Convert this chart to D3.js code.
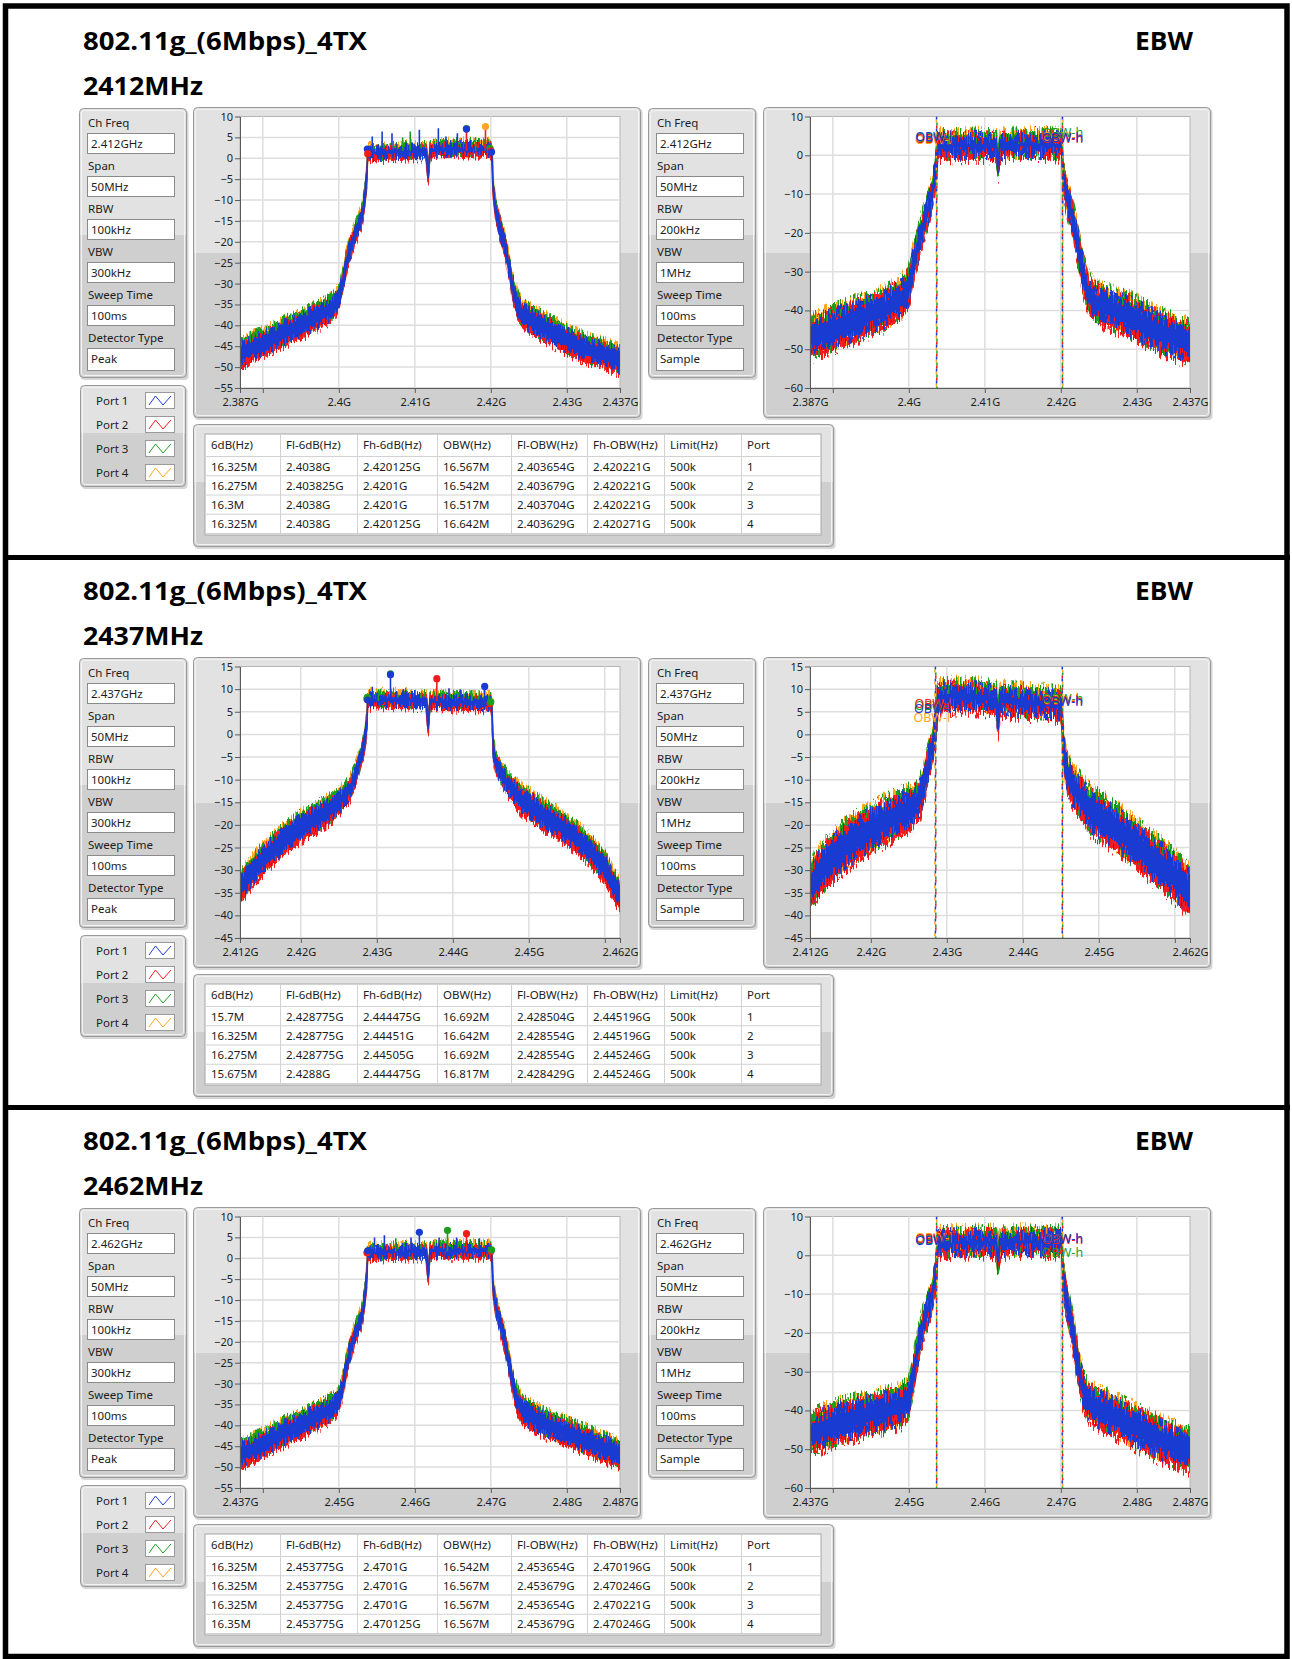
<!DOCTYPE html>
<html>
<head>
<meta charset="utf-8">
<title>802.11g EBW</title>
<script src="https://cdn.jsdelivr.net/npm/d3@7"></script>
<style>
  body { margin: 0; background: #fff; }
  svg { display: block; }
</style>
</head>
<body>
<script>
// ---------- data ----------
var channelNames  = ["2412MHz", "2437MHz", "2462MHz"];
var channelCenter = [2412, 2437, 2462];
var chFreqValues  = ["2.412GHz", "2.437GHz", "2.462GHz"];

var settingLabels  = ["Ch Freq", "Span", "RBW", "VBW", "Sweep Time", "Detector Type"];
var peakSettings   = ["50MHz", "100kHz", "300kHz", "100ms", "Peak"];
var sampleSettings = ["50MHz", "200kHz", "1MHz", "100ms", "Sample"];

var portNames  = ["Port 1", "Port 2", "Port 3", "Port 4"];
var portColors = ["#1a3bd1", "#f21b1b", "#1d9e1d", "#ffa41f"];

var tableHeaders = ["6dB(Hz)", "Fl-6dB(Hz)", "Fh-6dB(Hz)", "OBW(Hz)", "Fl-OBW(Hz)", "Fh-OBW(Hz)", "Limit(Hz)", "Port"];
var table2412 = [
  ["16.325M", "2.4038G", "2.420125G", "16.567M", "2.403654G", "2.420221G", "500k", "1"],
  ["16.275M", "2.403825G", "2.4201G", "16.542M", "2.403679G", "2.420221G", "500k", "2"],
  ["16.3M", "2.4038G", "2.4201G", "16.517M", "2.403704G", "2.420221G", "500k", "3"],
  ["16.325M", "2.4038G", "2.420125G", "16.642M", "2.403629G", "2.420271G", "500k", "4"]
];
var table2437 = [
  ["15.7M", "2.428775G", "2.444475G", "16.692M", "2.428504G", "2.445196G", "500k", "1"],
  ["16.325M", "2.428775G", "2.44451G", "16.642M", "2.428554G", "2.445196G", "500k", "2"],
  ["16.275M", "2.428775G", "2.44505G", "16.692M", "2.428554G", "2.445246G", "500k", "3"],
  ["15.675M", "2.4288G", "2.444475G", "16.817M", "2.428429G", "2.445246G", "500k", "4"]
];
var table2462 = [
  ["16.325M", "2.453775G", "2.4701G", "16.542M", "2.453654G", "2.470196G", "500k", "1"],
  ["16.325M", "2.453775G", "2.4701G", "16.567M", "2.453679G", "2.470246G", "500k", "2"],
  ["16.325M", "2.453775G", "2.4701G", "16.567M", "2.453654G", "2.470221G", "500k", "3"],
  ["16.35M", "2.453775G", "2.470125G", "16.567M", "2.453679G", "2.470246G", "500k", "4"]
];

// x ticks (MHz) and their labels
var xTicks2412  = [2387, 2390, 2400, 2410, 2420, 2430, 2437];
var xLabels2412 = ["2.387G", "", "2.4G", "2.41G", "2.42G", "2.43G", "2.437G"];
var xTicks2437  = [2412, 2420, 2430, 2440, 2450, 2460, 2462];
var xLabels2437 = ["2.412G", "2.42G", "2.43G", "2.44G", "2.45G", "", "2.462G"];
var xTicks2462  = [2437, 2440, 2450, 2460, 2470, 2480, 2487];
var xLabels2462 = ["2.437G", "", "2.45G", "2.46G", "2.47G", "2.48G", "2.487G"];

// y ticks (dBm)
var yTicksPeak   = [10, 5, 0, -5, -10, -15, -20, -25, -30, -35, -40, -45, -50, -55];
var yTicksSample = [10, 0, -10, -20, -30, -40, -50, -60];
var yTicks2437   = [15, 10, 5, 0, -5, -10, -15, -20, -25, -30, -35, -40, -45];

// frequency offsets from channel centre (MHz) where the trace level was read
var offsets = [-25, -23, -21, -19, -17, -15, -13,
  -12, -11.5, -11, -10.5, -10, -9.5, -9, -8.6, -8.3, -8.2,
  -7, -5, -3, -1.5, -0.5, -0.25, 0, 0.6,
  2, 4, 6, 8, 8.15,
  8.3, 8.6, 9, 9.5, 10, 10.5, 11, 11.5, 12,
  13, 15, 17, 19, 21, 23, 25];

// centre of the trace band (dBm)
var peak2412 = [-47, -45, -43.5, -41.5, -40, -38, -36,
  -33.5, -30, -25, -21.5, -19, -16.5, -14, -10, -4, 1.2,
  1.2, 1.4, 1.6, 1.7, 1.6, -4.5, 1.8, 2,
  2.2, 2.3, 2.3, 2.2, 1,
  -7, -12, -15, -18.5, -22, -27, -32, -35, -37,
  -38.5, -40.5, -42.5, -44.5, -46, -47, -48.5];
var sample2412 = [-47, -45.5, -44, -42.5, -41, -39.5, -37,
  -34, -29, -25, -21, -17.5, -14, -10.5, -6, -1, 2.5,
  2.4, 2.4, 2.6, 2.4, 2.2, -2.5, 2.2, 2.5,
  2.6, 2.7, 2.7, 2.5, 1.5,
  -5, -9, -12, -16, -20.5, -26, -31, -35, -37,
  -38.5, -40, -41.5, -43.5, -45.5, -47, -48.5];
var peak2437 = [-34, -29.5, -26, -23, -20.5, -18.5, -16.5,
  -15, -14, -13, -12, -10, -7.5, -4.5, -1.5, 2.5, 7.5,
  7.6, 7.7, 7.6, 7.5, 7.4, 1.5, 7.2, 7.3,
  7.2, 7.1, 7, 7, 6,
  -3, -6, -7.5, -9, -10.5, -11.5, -12.5, -13.5, -14.5,
  -15.5, -18, -20, -22.5, -25.5, -29.5, -36];
var sample2437 = [-33.5, -29, -25.5, -23, -21, -19, -17.5,
  -16.5, -16, -15, -14, -11, -7, -3.5, 0, 4, 8,
  8.3, 8.5, 8.2, 8, 7.5, 3, 7.5, 7.5,
  7.3, 7, 6.8, 6.5, 5,
  -2, -7, -9.5, -11.5, -12.5, -13.5, -14.5, -16, -17,
  -18, -20.5, -23, -26, -28.5, -31.5, -35];
var peak2462 = [-47, -45.5, -43.5, -41.5, -40, -38, -36,
  -34, -31, -26, -22, -19, -16.5, -14, -10, -4, 1.2,
  1.3, 1.5, 1.6, 1.6, 1.5, -4.5, 1.6, 1.7,
  1.8, 1.8, 1.8, 1.8, 0.5,
  -7, -11, -14, -17, -21, -26, -31, -34, -36,
  -37.5, -39.5, -41, -42.5, -44, -45.5, -47];
var sample2462 = [-46, -44.5, -43, -42, -41, -40, -39,
  -37, -32, -26, -21, -17, -14, -11, -7, -2, 3,
  3.2, 3.3, 3.4, 3.4, 3.2, -1.5, 3, 3.3,
  3.4, 3.5, 3.4, 3.3, 2,
  -5, -10, -14, -19, -25, -31, -35, -37.5, -38.5,
  -39.5, -41.5, -43.5, -45.5, -47.5, -49, -50.5];

// thickness of the noise band (dB)
var spreadPeak = [5.5, 5.5, 5.5, 5.5, 5.5, 5.5, 5,
  4.5, 4, 4, 4, 4, 3.5, 3.5, 3.5, 3, 2.5,
  2.5, 2.5, 2.5, 2.5, 2.5, 2.5, 2.5, 2.5,
  2.5, 2.5, 2.5, 2.5, 2.5,
  3, 3.5, 4, 4, 4, 4, 4.5, 5, 5,
  5.5, 5.5, 5.5, 5.5, 5.5, 5.5, 5.5];
var spreadSample = [9, 9, 9, 9, 8.5, 8.5, 8.5,
  8, 7.5, 7, 7, 6, 6, 5.5, 5.5, 5.5, 5,
  5, 5, 5, 5, 5, 5, 5, 5,
  5, 5, 5, 5, 5,
  6, 6, 7, 7, 7, 7.5, 8, 8, 8.5,
  8.5, 8.5, 9, 9, 9, 9, 9];

// level of the flat top, where spikes start
var inBandLevel = [1.8, 7.4, 1.6];

// spikes [offset MHz, top dBm, port]
var spikes2412 = [[-7.6, 5.2, 0], [-6.3, 6.4, 0], [-5, 6, 0], [-3.6, 5, 2], [-2.6, 6.4, 2], [-1.4, 6.8, 0],
  [1.1, 7.2, 0], [2.1, 5.2, 0], [3.6, 6, 0], [4.8, 7, 1], [6, 5, 2], [7.3, 7.6, 1]];
var spikes2437 = [[-7.6, 10.5, 0], [-6.8, 10, 2], [-5.2, 13.2, 0], [-3.5, 10, 0], [-2, 9.8, 0],
  [0.9, 12.3, 1], [2.5, 10.2, 0], [4, 10, 0], [5.5, 9.8, 2], [7.2, 10.6, 0]];
var spikes2462 = [[-7.3, 5, 0], [-6, 5.5, 0], [-4.5, 4.8, 2], [-2.5, 5, 0], [-1.4, 6.2, 0],
  [1.2, 5, 0], [2.3, 6.7, 2], [3.5, 5, 0], [4.8, 5.9, 1], [6.5, 4.8, 0]];

// peak markers [offset MHz, level dBm, port]
var markers2412 = [[-8.25, 2.2, 0], [-8.2, 1.1, 1], [4.8, 7.1, 2], [4.8, 7, 0], [7.3, 7.6, 3],
  [7.9, 2.4, 2], [8.0, 1.8, 1], [8.1, 1.5, 0]];
var markers2437 = [[-8.3, 7.8, 1], [-8.25, 8.2, 2], [-8.2, 7.6, 0], [-5.2, 13.4, 2], [-5.2, 13.2, 0],
  [0.9, 12.3, 1], [7.2, 10.6, 0], [7.9, 6.8, 1], [8.0, 7.2, 2]];
var markers2462 = [[-8.3, 1.3, 1], [-8.2, 1.8, 0], [-1.4, 6.2, 0], [2.3, 6.7, 2], [4.8, 5.9, 1],
  [8.0, 1.6, 1], [8.1, 2.0, 2]];

// OBW cursor label levels per port (dBm)
var obwL2412 = [4.8, 4.4, 4.6, 4.0], obwH2412 = [4.6, 4.3, 5.8, 4.8];
var obwL2437 = [5.8, 6.8, 6.3, 3.7], obwH2437 = [7.2, 7.4, 7.9, 7.6];
var obwL2462 = [3.9, 4.3, 4.1, 4.5], obwH2462 = [4.2, 4.0, 0.7, 4.4];

var sections = [
  { table: table2412, xTicks: xTicks2412, xLabels: xLabels2412, yPeak: yTicksPeak, ySample: yTicksSample,
    peak: peak2412, sample: sample2412, spikes: spikes2412, markers: markers2412, obwL: obwL2412, obwH: obwH2412 },
  { table: table2437, xTicks: xTicks2437, xLabels: xLabels2437, yPeak: yTicks2437, ySample: yTicks2437,
    peak: peak2437, sample: sample2437, spikes: spikes2437, markers: markers2437, obwL: obwL2437, obwH: obwH2437 },
  { table: table2462, xTicks: xTicks2462, xLabels: xLabels2462, yPeak: yTicksPeak, ySample: yTicksSample,
    peak: peak2462, sample: sample2462, spikes: spikes2462, markers: markers2462, obwL: obwL2462, obwH: obwH2462 }
];

// ---------- drawing ----------
var SEC = 550;
var FONT = "'Noto Sans', 'DejaVu Sans', sans-serif";
var portShift = [0, -0.5, 0.4, 0.6];   // dB, how each port sits against port 1
var bandScale = [0.8, 1, 1, 1];

var svg = d3.select("body").append("svg").attr("width", 1292).attr("height", 1659);
var defs = svg.append("defs");

var grad = defs.append("linearGradient").attr("id", "pgrad")
  .attr("x1", 0).attr("y1", 0).attr("x2", 0).attr("y2", 1);
[[0, "#e2e2e2"], [0.47, "#e2e2e2"], [0.47, "#cfcfcf"], [1, "#cfcfcf"]].forEach(function (s) {
  grad.append("stop").attr("offset", s[0]).attr("stop-color", s[1]);
});

function jitterFilter(id, seed, amount) {
  var f = defs.append("filter").attr("id", id).attr("filterUnits", "userSpaceOnUse")
    .attr("x", 0).attr("y", 0).attr("width", 1292).attr("height", 560)
    .attr("color-interpolation-filters", "sRGB");
  f.append("feTurbulence").attr("type", "fractalNoise").attr("baseFrequency", "0.6 0.08")
    .attr("numOctaves", 2).attr("seed", seed).attr("result", "n");
  f.append("feColorMatrix").attr("in", "n").attr("type", "matrix")
    .attr("values", "0 0 0 0 0.5  0 3 0 0 -1  0 0 0 0 0  0 0 0 0 1").attr("result", "m");
  f.append("feDisplacementMap").attr("in", "SourceGraphic").attr("in2", "m").attr("scale", amount)
    .attr("xChannelSelector", "R").attr("yChannelSelector", "G");
}
for (var p = 0; p < 4; p++) {
  jitterFilter("jp" + p, 11 + p * 5, 8);
  jitterFilter("js" + p, 31 + p * 5, 14);
}

function panel(g, x, y, w, h) {
  g.append("rect").attr("x", x + 1.5).attr("y", y + 2).attr("width", w).attr("height", h)
    .attr("rx", 4).attr("fill", "#b5b5b5").attr("opacity", 0.55);
  g.append("rect").attr("x", x + 0.5).attr("y", y + 0.5).attr("width", w - 1).attr("height", h - 1)
    .attr("rx", 4).attr("fill", "url(#pgrad)").attr("stroke", "#9a9a9a");
  g.append("rect").attr("x", x + 2.5).attr("y", y + 2.5).attr("width", w - 5).attr("height", h - 5)
    .attr("rx", 3).attr("fill", "none").attr("stroke", "#f3f3f3");
}

function label(g, x, y, txt, size) {
  return g.append("text").attr("x", x).attr("y", y).attr("font-family", FONT)
    .attr("font-size", size || 11.5).attr("fill", "#1c1c1c").text(txt);
}

function drawSettings(g, x, chText, values) {
  panel(g, x, 108, 108, 270);
  var vals = [chText].concat(values);
  settingLabels.forEach(function (l, i) {
    label(g, x + 9, 127 + 43 * i, l);
    g.append("rect").attr("x", x + 8.5).attr("y", 133.5 + 43 * i).attr("width", 87)
      .attr("height", i === 5 ? 22 : 20).attr("fill", "#fff").attr("stroke", "#8a8a8a");
    label(g, x + 12, 148 + 43 * i, vals[i]);
  });
}

function drawLegend(g) {
  panel(g, 80, 385, 106, 102);
  var zig = d3.line();
  portNames.forEach(function (n, i) {
    var by = 405 + 24 * i;
    label(g, 96, by, n, 11.5);
    g.append("rect").attr("x", 145.5).attr("y", by - 12.5).attr("width", 29).attr("height", 16)
      .attr("fill", "#fff").attr("stroke", "#9a9a9a");
    g.append("path").attr("d", zig([[149, by], [155.5, by - 9], [163, by], [171, by - 9]]))
      .attr("fill", "none").attr("stroke", portColors[i]).attr("stroke-width", 1);
  });
}

function drawTable(g, rows) {
  panel(g, 193, 424, 641, 123);
  var colX = [205, 280, 357, 437, 511, 587, 664, 741, 821];
  var rowY = [434, 456, 475.25, 494.5, 513.75, 533];
  g.append("rect").attr("x", 205).attr("y", 434).attr("width", 616).attr("height", 101)
    .attr("fill", "#fff").attr("stroke", "#a6a6a6");
  g.selectAll(null).data(colX.slice(1, -1)).enter().append("line")
    .attr("x1", function (d) { return d + 0.5; }).attr("x2", function (d) { return d + 0.5; })
    .attr("y1", 434).attr("y2", 535).attr("stroke", "#d2d2d2");
  g.selectAll(null).data(rowY.slice(1)).enter().append("line")
    .attr("x1", 205).attr("x2", 821)
    .attr("y1", function (d) { return d + 0.5; }).attr("y2", function (d) { return d + 0.5; })
    .attr("stroke", "#d2d2d2");
  tableHeaders.forEach(function (h, c) { label(g, colX[c] + 6, 448.5, h); });
  rows.forEach(function (r, ri) {
    r.forEach(function (v, c) { label(g, colX[c] + 6, rowY[ri + 1] + 14.5, v); });
  });
}

var chartId = 0;
function drawChart(g, px, o) {
  var id = chartId++;
  panel(g, px, 107, 448, 311);
  var x0 = px + 47, y0 = 116.5, pw = 380, ph = 271.5;
  var x = d3.scaleLinear().domain(d3.extent(o.xTicks)).range([x0, x0 + pw]);
  var y = d3.scaleLinear().domain(d3.extent(o.yTicks)).range([y0 + ph, y0]);

  g.append("rect").attr("x", x0).attr("y", y0).attr("width", pw).attr("height", ph)
    .attr("fill", "#fff").attr("stroke", "#b4b4b4");

  g.selectAll(null).data(o.xTicks.slice(1, -1)).enter().append("line")
    .attr("x1", function (d) { return x(d); }).attr("x2", function (d) { return x(d); })
    .attr("y1", y0).attr("y2", y0 + ph).attr("stroke", "#dedede").attr("stroke-width", 1.5);
  g.selectAll(null).data(o.yTicks.slice(1, -1)).enter().append("line")
    .attr("x1", x0).attr("x2", x0 + pw)
    .attr("y1", function (d) { return y(d); }).attr("y2", function (d) { return y(d); })
    .attr("stroke", "#dedede").attr("stroke-width", 1.5);

  defs.append("clipPath").attr("id", "clip" + id).append("rect")
    .attr("x", x0).attr("y", y0).attr("width", pw).attr("height", ph);
  var tg = g.append("g").attr("clip-path", "url(#clip" + id + ")");

  [3, 2, 1, 0].forEach(function (p) {
    var area = d3.area()
      .x(function (d, i) { return x(o.center + offsets[i]); })
      .y0(function (d, i) { return y(d - o.spread[i] * bandScale[p] / 2 + portShift[p]); })
      .y1(function (d, i) { return y(d + o.spread[i] * bandScale[p] / 2 + portShift[p]); });
    tg.append("g").attr("filter", "url(#" + (o.sample ? "js" : "jp") + p + ")")
      .append("path").datum(o.mid).attr("d", area)
      .attr("fill", portColors[p]).attr("stroke", portColors[p]).attr("stroke-width", 1.3);
  });

  if (o.spikes) {
    tg.selectAll(null).data(o.spikes).enter().append("line")
      .attr("x1", function (d) { return x(o.center + d[0]); })
      .attr("x2", function (d) { return x(o.center + d[0]); })
      .attr("y1", function (d) { return y(d[1]); })
      .attr("y2", y(o.base))
      .attr("stroke", function (d) { return portColors[d[2]]; }).attr("stroke-width", 1.6);
    tg.selectAll(null).data(o.markers).enter().append("circle")
      .attr("cx", function (d) { return x(o.center + d[0]); })
      .attr("cy", function (d) { return y(d[1]); })
      .attr("r", 3.6).attr("fill", function (d) { return portColors[d[2]]; });
  }

  if (o.sample) {
    // OBW cursors from the table (Fl-OBW / Fh-OBW)
    [3, 2, 1, 0].forEach(function (p) {
      [4, 5].forEach(function (c) {
        var fx = x(parseFloat(o.table[p][c]) * 1000);
        tg.append("line").attr("x1", fx).attr("x2", fx).attr("y1", y0).attr("y2", y0 + ph)
          .attr("stroke", portColors[p]).attr("stroke-width", 1.5)
          .attr("stroke-dasharray", "3,9").attr("stroke-dashoffset", p * 3);
      });
    });
    [3, 2, 1, 0].forEach(function (p) {
      var fl = x(parseFloat(o.table[p][4]) * 1000), fh = x(parseFloat(o.table[p][5]) * 1000);
      tg.append("text").attr("x", fl - 3).attr("y", y(o.obwL[p]) + 4.5).attr("text-anchor", "middle")
        .attr("font-family", FONT).attr("font-size", 12.5).attr("fill", portColors[p]).text("OBW-l");
      tg.append("text").attr("x", fh).attr("y", y(o.obwH[p]) + 4.5).attr("text-anchor", "middle")
        .attr("font-family", FONT).attr("font-size", 12.5).attr("fill", portColors[p]).text("OBW-h");
    });
  }

  var ya = g.append("g").attr("transform", "translate(" + x0 + ",0)")
    .call(d3.axisLeft(y).tickValues(o.yTicks).tickSize(5).tickSizeOuter(0).tickPadding(2));
  var xa = g.append("g").attr("transform", "translate(0," + (y0 + ph) + ")")
    .call(d3.axisBottom(x).tickValues(o.xTicks).tickSize(5).tickSizeOuter(0).tickPadding(5)
      .tickFormat(function (d, i) { return o.xLabels[i]; }));
  [ya, xa].forEach(function (a) {
    a.attr("font-family", FONT).attr("font-size", 11);
    a.select(".domain").attr("stroke", "#5a5a5a");
    a.selectAll(".tick line").attr("stroke", "#5a5a5a");
    a.selectAll(".tick text").attr("fill", "#1c1c1c");
  });
}

sections.forEach(function (s, si) {
  var g = svg.append("g").attr("transform", "translate(0," + si * SEC + ")");
  g.append("text").attr("x", 83).attr("y", 50).attr("font-family", "'Open Sans', sans-serif")
    .attr("font-weight", 700).attr("font-size", 25).attr("textLength", 284)
    .attr("lengthAdjust", "spacingAndGlyphs").attr("fill", "#000").text("802.11g_(6Mbps)_4TX");
  g.append("text").attr("x", 83).attr("y", 95).attr("font-family", "'Open Sans', sans-serif")
    .attr("font-weight", 700).attr("font-size", 25).attr("textLength", 120)
    .attr("lengthAdjust", "spacingAndGlyphs").attr("fill", "#000").text(channelNames[si]);
  g.append("text").attr("x", 1135).attr("y", 50).attr("font-family", "'Open Sans', sans-serif")
    .attr("font-weight", 700).attr("font-size", 25).attr("textLength", 58)
    .attr("lengthAdjust", "spacingAndGlyphs").attr("fill", "#000").text("EBW");

  drawSettings(g, 79, chFreqValues[si], peakSettings);
  drawSettings(g, 648, chFreqValues[si], sampleSettings);
  drawLegend(g);
  drawTable(g, s.table);

  drawChart(g, 193, { center: channelCenter[si], xTicks: s.xTicks, xLabels: s.xLabels, yTicks: s.yPeak,
    mid: s.peak, spread: spreadPeak, spikes: s.spikes, markers: s.markers, base: inBandLevel[si], sample: false });
  drawChart(g, 763, { center: channelCenter[si], xTicks: s.xTicks, xLabels: s.xLabels, yTicks: s.ySample,
    mid: s.sample, spread: spreadSample, table: s.table, obwL: s.obwL, obwH: s.obwH, sample: true });
});

// black frame and section dividers
svg.append("rect").attr("x", 5.5).attr("y", 6).attr("width", 1281.5).attr("height", 1650.5)
  .attr("fill", "none").attr("stroke", "#000").attr("stroke-width", 5.5);
[1, 2].forEach(function (k) {
  svg.append("rect").attr("x", 3).attr("y", k * SEC + 5).attr("width", 1287).attr("height", 5).attr("fill", "#000");
});
</script>
</body>
</html>
